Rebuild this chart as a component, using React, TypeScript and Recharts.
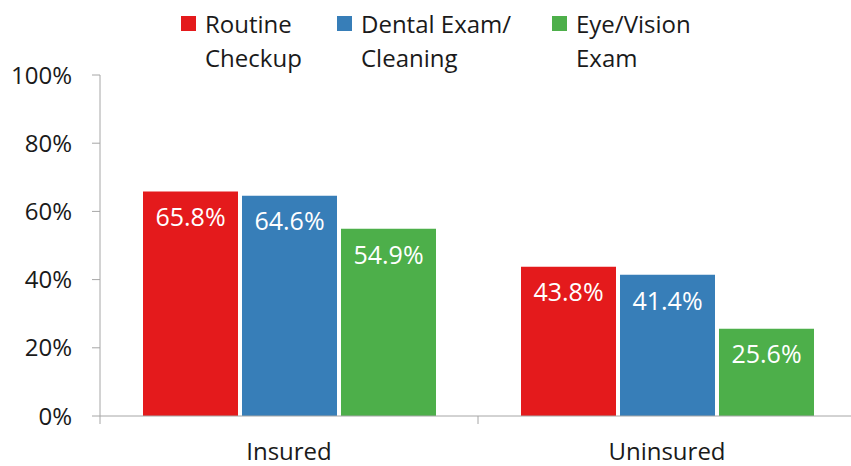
import { BarChart, Bar, XAxis, YAxis, LabelList } from 'recharts';

// chart values
const groups = ['Insured', 'Uninsured'];
const routineCheckup = [65.8, 43.8];
const dentalExam = [64.6, 41.4];
const eyeVision = [54.9, 25.6];
const yTicks = [0, 20, 40, 60, 80, 100];

const seriesInfo = [
  { key: 'routine', lines: ['Routine', 'Checkup'], color: '#E41A1C', left: 181 },
  { key: 'dental', lines: ['Dental Exam/', 'Cleaning'], color: '#377EB8', left: 337 },
  { key: 'eye', lines: ['Eye/Vision', 'Exam'], color: '#4DAF4A', left: 552 },
];

const data = groups.map((group, i) => ({
  group,
  routine: routineCheckup[i],
  dental: dentalExam[i],
  eye: eyeVision[i],
}));

const AXIS_COLOR = '#a6a6a6';
const TEXT_COLOR = '#1a1a1a';
const FONT = "'Open Sans', sans-serif";
const HALF_BAND = 378 / 2; // fallback if the tick payload has no offset

const GroupTick = (props: any) => {
  const { x, y, payload, index } = props;
  const half = payload && payload.offset ? payload.offset : HALF_BAND;
  const axisY = y - 27;
  return (
    <g>
      {index === 0 && (
        <line x1={x - half} x2={x - half} y1={axisY} y2={axisY + 8} stroke={AXIS_COLOR} />
      )}
      <line x1={x + half} x2={x + half} y1={axisY} y2={axisY + 8} stroke={AXIS_COLOR} />
      <text x={x} y={y} dy="0.71em" textAnchor="middle" fill={TEXT_COLOR} fontSize={24} fontFamily={FONT}>
        {payload.value}
      </text>
    </g>
  );
};

const LegendBlock = () => (
  <div style={{ position: 'absolute', top: 0, left: 0, width: 851, height: 75 }}>
    {seriesInfo.map((s) => (
      <div key={s.key} style={{ position: 'absolute', left: s.left, top: 7 }}>
        <div
          style={{ position: 'absolute', left: 0, top: 9, width: 15, height: 15, background: s.color }}
        />
        <div
          style={{
            marginLeft: 24,
            fontSize: 24,
            lineHeight: '34px',
            color: TEXT_COLOR,
            whiteSpace: 'nowrap',
          }}
        >
          {s.lines.map((l) => (
            <div key={l}>{l}</div>
          ))}
        </div>
      </div>
    ))}
  </div>
);

export default function App() {
  return (
    <div
      style={{
        position: 'absolute',
        top: 0,
        left: 0,
        width: 851,
        height: 466,
        overflow: 'hidden',
        background: '#fff',
        fontFamily: FONT,
      }}
    >
      <BarChart
        width={860}
        height={466}
        data={data}
        margin={{ top: 75, right: 4, left: 0, bottom: 0 }}
        barCategoryGap={43}
        barGap={4}
      >
        <XAxis
          dataKey="group"
          height={50}
          tickLine={false}
          tickSize={8}
          tickMargin={19}
          axisLine={{ stroke: AXIS_COLOR }}
          tick={<GroupTick />}
          interval={0}
        />
        <YAxis
          width={100}
          domain={[0, 100]}
          ticks={yTicks}
          interval={0}
          tickSize={8}
          tickMargin={20}
          tickFormatter={(v) => `${v}%`}
          axisLine={{ stroke: AXIS_COLOR }}
          tickLine={{ stroke: AXIS_COLOR }}
          tick={{ fill: TEXT_COLOR, fontSize: 24, fontFamily: FONT }}
        />
        {seriesInfo.map((s) => (
          <Bar key={s.key} dataKey={s.key} fill={s.color} isAnimationActive={false}>
            <LabelList
              dataKey={s.key}
              position="insideTop"
              offset={17}
              fill="#ffffff"
              fontSize={25}
              fontFamily={FONT}
              formatter={(v: any) => `${Number(v).toFixed(1)}%`}
            />
          </Bar>
        ))}
      </BarChart>
      <LegendBlock />
    </div>
  );
}
